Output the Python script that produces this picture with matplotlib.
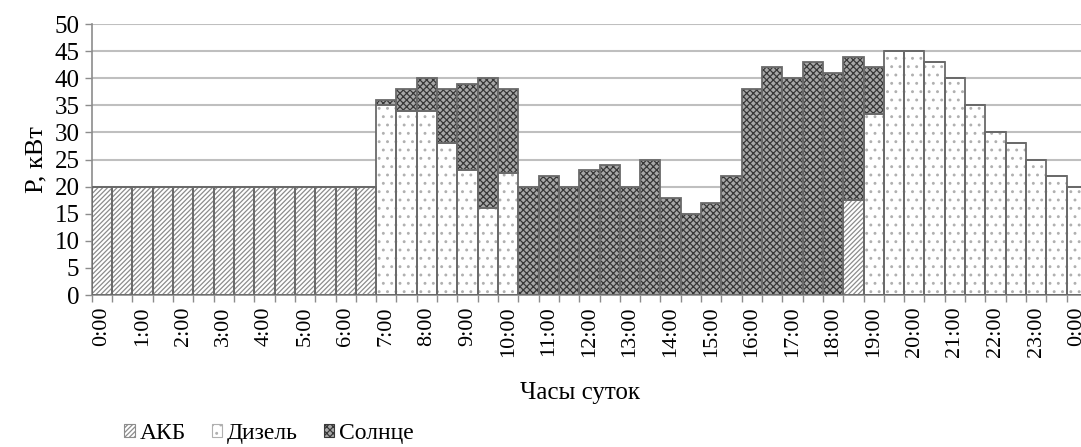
import numpy as np
import matplotlib.pyplot as plt
from matplotlib.patches import Patch

plt.rcParams['font.family'] = ['Liberation Serif', 'DejaVu Serif']
plt.rcParams['hatch.linewidth'] = 0.9

# half-hour intervals 0:00 ... 24:00
labels = ['%d:00' % h for h in range(24)] + ['0:00']

akb = [20]*14 + [0]*23 + [17.5] + [0]*11
diesel = [0]*14 + [35, 34, 34, 28, 23, 16, 22.5] + [0]*17 + [33.5, 45, 45, 43, 40, 35, 30, 28, 25, 22, 20]
solar = [0]*14 + [1, 4, 6, 10, 16, 24, 15.5] + \
        [20, 22, 20, 23, 24, 20, 25, 18, 15, 17, 22, 38, 42, 40, 43, 41, 26.5, 8.5] + [0]*10

akb = np.array(akb, float)
diesel = np.array(diesel, float)
solar = np.array(solar, float)
x = np.arange(len(akb))

fig = plt.figure(figsize=(10.81, 4.47), dpi=100)
ax = fig.add_axes([0.085, 0.340, 0.9205, 0.606])

edge = '#6a6a6a'
styles = [
    (akb, 0, 'white', '#8c8c8c', '///////', 'АКБ'),
    (diesel, akb, 'white', '#b0b0b0', '..', 'Дизель'),
    (solar, akb + diesel, '#a8a8a8', '#383838', 'xxxxx', 'Солнце'),
]
handles = []
for vals, bottom, fc, hc, hatch, name in styles:
    ax.bar(x, vals, 1.0, bottom=bottom, color=fc, edgecolor=hc, hatch=hatch, linewidth=0, zorder=2)
    ax.bar(x, vals, 1.0, bottom=bottom, fill=False, edgecolor=edge, linewidth=1.3, zorder=3)
    handles.append(Patch(facecolor=fc, edgecolor=hc, hatch=hatch, linewidth=0.8, label=name))

ax.set_xlim(-0.5, len(x) - 0.5)
ax.set_ylim(0, 50)
ax.set_yticks(range(0, 51, 5))
ax.yaxis.grid(True, color='#bfbfbf', linewidth=1.5, zorder=0)
ax.set_axisbelow(True)

ax.set_xticks(x[::2])
ax.set_xticklabels(labels, rotation=90, fontsize=16)
ax.set_xticks(np.arange(-0.5, len(x), 1.0), minor=True)
ax.tick_params(axis='x', which='major', length=0, pad=8)
ax.tick_params(axis='x', which='minor', length=5, color='#8c8c8c', width=1)
ax.tick_params(axis='y', length=5, color='#8c8c8c', width=1, labelsize=18, pad=4)

for s in ['top', 'right']:
    ax.spines[s].set_visible(False)
ax.spines['left'].set_color('#8c8c8c')
ax.spines['bottom'].set_color('#8c8c8c')
ax.spines['left'].set_linewidth(1.2)
ax.spines['bottom'].set_linewidth(1.2)

ax.set_ylabel('P, кВт', fontsize=19, labelpad=5)
fig.text(0.537, 0.12, 'Часы суток', fontsize=18, ha='center', va='center')

fig.legend(handles=handles, loc='center left', bbox_to_anchor=(0.095, 0.031), ncol=3,
           frameon=False, fontsize=17, handlelength=0.45, handleheight=0.45,
           handletextpad=0.2, columnspacing=1.1)

fig.savefig('out.png', dpi=100)
